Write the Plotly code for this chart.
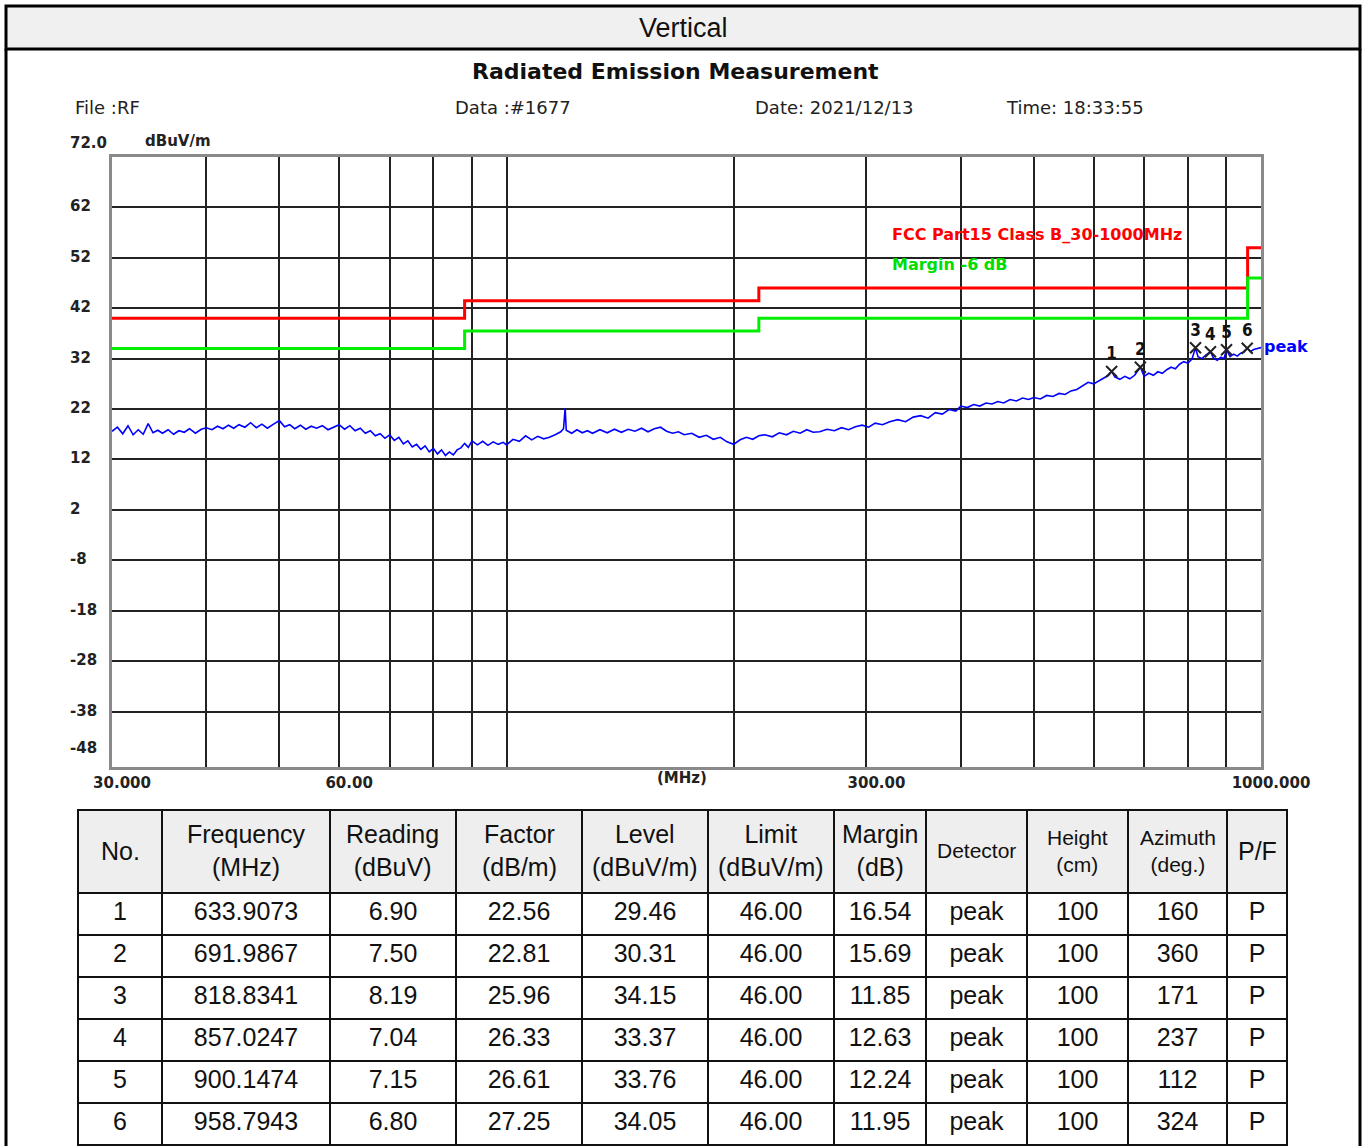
import plotly.graph_objects as go
import math

W, H = 1365, 1146

# ---------------- data ----------------
trace_freq = [
    30.0, 30.5, 31.0, 31.5, 32.0, 32.5, 33.0, 33.5, 34.0, 34.5,
    35.0, 35.6, 36.2, 36.8, 37.4, 38.0, 38.7, 39.4, 40.0, 40.7,
    41.4, 42.1, 42.8, 43.5, 44.2, 45.0, 45.8, 46.6, 47.4, 48.2,
    49.0, 50.0, 50.8, 51.6, 52.4, 53.3, 54.2, 55.1, 56.0, 57.0,
    58.0, 59.0, 60.0, 61.0, 62.0, 63.0, 64.0, 65.0, 66.0, 67.0,
    68.0, 69.0, 70.0, 71.0, 72.0, 73.0, 74.0, 75.0, 76.0, 77.0,
    78.0, 79.0, 80.0, 81.0, 82.0, 83.0, 84.0, 85.0, 86.0, 87.0,
    88.0, 89.0, 90.0, 91.5, 93.0, 94.5, 96.0, 97.5, 99.0, 100.0,
    102, 104, 106, 108, 110, 112, 114, 116, 118, 119,
    119.6, 120, 122, 124, 126, 128, 130, 133, 136, 139,
    142, 145, 148, 151, 154, 157, 160, 163, 166, 169,
    172, 176, 180, 184, 188, 192, 196, 200, 204, 208,
    212, 216, 220, 225, 230, 235, 240, 245, 250, 255,
    260, 266, 272, 278, 284, 290, 296, 302, 308, 315,
    322, 330, 338, 346, 354, 362, 370, 378, 386, 394,
    400, 408, 416, 424, 432, 440, 448, 456, 465, 474,
    483, 492, 500, 510, 520, 530, 540, 550, 560, 570,
    580, 590, 600, 610, 620, 628, 633.9073, 640, 650, 660,
    670, 680, 691.9867, 700, 710, 720, 730, 740, 750, 760,
    770, 780, 790, 800, 810, 818.8341, 825, 835, 845, 857.0247,
    865, 875, 885, 893, 900.1474, 910, 920, 930, 940, 950,
    958.7943, 968, 978, 990, 1000,
]
trace_level = [
    17.6, 18.4, 17.1, 18.7, 16.9, 17.9, 17.0, 19.1, 17.3, 17.8,
    17.2, 17.9, 17.0, 17.7, 17.4, 18.1, 17.2, 18.0, 18.3, 17.9,
    18.6, 18.1, 18.8, 18.2, 18.9, 18.4, 19.3, 18.3, 19.0, 18.2,
    18.9, 19.7, 18.5, 18.9, 18.1, 18.8, 18.0, 18.6, 18.2, 18.7,
    17.9, 18.4, 18.9, 18.0, 18.7, 17.7, 18.2, 17.2, 17.7, 16.7,
    17.1, 16.2, 16.9, 15.8, 16.4, 15.1, 15.7, 14.5, 15.0, 14.0,
    14.7, 13.5, 14.2, 13.1, 13.9, 12.8, 13.5, 12.9, 13.9, 14.3,
    15.2, 14.4, 15.7, 14.9, 15.6, 14.8, 15.5, 15.0, 15.4, 14.9,
    16.0, 15.6, 16.7, 15.9, 16.6, 16.1, 16.4, 16.9, 17.5, 18.1,
    22.2, 17.8, 17.2, 17.9, 17.3, 17.7, 17.2, 17.9, 17.3, 18.0,
    17.4, 18.0, 17.6, 18.2, 17.5, 18.1, 18.4, 17.6, 17.2, 17.5,
    16.9, 17.2, 16.4, 16.8, 16.0, 16.4, 15.5, 15.0, 15.9, 16.4,
    16.0, 16.7, 16.9, 16.5, 17.3, 16.9, 17.6, 17.2, 17.9, 17.4,
    17.5, 18.0, 17.7, 18.3, 17.9, 18.5, 18.8, 18.4, 19.2, 18.9,
    19.5, 19.9, 19.5, 20.4, 20.7, 20.2, 21.3, 21.0, 21.9, 21.6,
    22.6, 22.3, 22.9, 22.6, 23.2, 23.0, 23.5, 23.2, 23.9, 23.6,
    24.2, 23.9, 24.3, 24.0, 24.7, 24.5, 25.1, 24.9, 25.6, 25.9,
    26.6, 27.3, 27.0, 27.6, 28.2, 28.7, 29.46, 28.4, 27.9, 28.5,
    28.0, 28.7, 30.31, 28.5, 29.1, 28.7, 29.4, 29.1, 29.8, 30.3,
    30.0, 30.9, 31.4, 31.1, 31.9, 34.15, 32.4, 32.0, 32.7, 33.37,
    32.1, 31.7, 32.3, 32.0, 33.76, 32.4, 32.9, 32.5, 33.1, 33.3,
    34.05, 33.4, 33.8, 34.0, 34.2,
]

limit_freq = [30, 88, 216, 960, 1000]
limit_level = [40, 43.5, 46, 54, 54]
margin_level = [34, 37.5, 40, 48, 48]

peak_no = [1, 2, 3, 4, 5, 6]
peak_freq = [633.9073, 691.9867, 818.8341, 857.0247, 900.1474, 958.7943]
peak_reading = [6.90, 7.50, 8.19, 7.04, 7.15, 6.80]
peak_factor = [22.56, 22.81, 25.96, 26.33, 26.61, 27.25]
peak_level = [29.46, 30.31, 34.15, 33.37, 33.76, 34.05]
peak_limit = [46.00, 46.00, 46.00, 46.00, 46.00, 46.00]
peak_margin = [16.54, 15.69, 11.85, 12.63, 12.24, 11.95]
peak_detector = ["peak"] * 6
peak_height = [100, 100, 100, 100, 100, 100]
peak_azimuth = [160, 360, 171, 237, 112, 324]
peak_pf = ["P"] * 6

x_grid = [30, 40, 50, 60, 70, 80, 90, 100, 200, 300, 400, 500, 600, 700, 800, 900, 1000]
x_labels = {30: "30.000", 60: "60.00", 300: "300.00", 1000: "1000.000"}
y_ticks = [62, 52, 42, 32, 22, 12, 2, -8, -18, -28, -38]

table_headers = ["No.", "Frequency<br>(MHz)", "Reading<br>(dBuV)", "Factor<br>(dB/m)",
                 "Level<br>(dBuV/m)", "Limit<br>(dBuV/m)", "Margin<br>(dB)", "Detector",
                 "Height<br>(cm)", "Azimuth<br>(deg.)", "P/F"]
table_col_widths = [84, 168, 126, 126, 126, 126, 92, 101, 101, 99, 60]
table_header_sizes = [25, 25, 25, 25, 25, 25, 25, 21, 21, 21, 25]

# ---------------- helpers (layout positions) ----------------
def px(x):
    return x / W

def py(y):
    return 1 - y / H

CHART_FONT = "DejaVu Sans, Verdana, sans-serif"
TABLE_FONT = "Liberation Sans, Arial, Helvetica, sans-serif"
TABLE_LEFT, TABLE_RIGHT, TABLE_TOP, HEADER_H = 78, 1287, 810, 83

fig = go.Figure()

fig.add_trace(go.Scatter(x=limit_freq, y=limit_level, mode="lines", line_shape="hv",
                         line=dict(color="#ff0000", width=3), hoverinfo="skip"))
fig.add_trace(go.Scatter(x=limit_freq, y=margin_level, mode="lines", line_shape="hv",
                         line=dict(color="#00ee00", width=3), hoverinfo="skip"))
fig.add_trace(go.Scatter(x=trace_freq, y=trace_level, mode="lines",
                         line=dict(color="#0000ff", width=1.6)))
fig.add_trace(go.Scatter(x=peak_freq, y=peak_level, mode="markers+text",
                         text=[str(n) for n in peak_no], textposition="top center",
                         textfont=dict(family="DejaVu Sans Condensed, DejaVu Sans", size=17,
                                       color="#111", weight="bold"),
                         marker=dict(symbol="x-thin", size=11,
                                     line=dict(color="#222", width=2))))

fig.add_trace(go.Table(
    domain=dict(x=[px(TABLE_LEFT), px(TABLE_RIGHT)], y=[0, py(TABLE_TOP)]),
    columnwidth=table_col_widths,
    header=dict(values=[""] * len(table_headers), fill_color="#eeeeee",
                line=dict(color="#111", width=2), height=HEADER_H, align="center",
                font=dict(family=TABLE_FONT, color="#111", size=25)),
    cells=dict(values=[peak_no,
                       [f"{v:.4f}" for v in peak_freq],
                       [f"{v:.2f}" for v in peak_reading],
                       [f"{v:.2f}" for v in peak_factor],
                       [f"{v:.2f}" for v in peak_level],
                       [f"{v:.2f}" for v in peak_limit],
                       [f"{v:.2f}" for v in peak_margin],
                       peak_detector, peak_height, peak_azimuth, peak_pf],
               fill_color="white", line=dict(color="#111", width=2), height=42,
               align="center", font=dict(family=TABLE_FONT, color="#111", size=25)),
))

ann = []
# table header labels, centred in each column
total_w = sum(table_col_widths)
scale = (TABLE_RIGHT - TABLE_LEFT) / total_w
cx = TABLE_LEFT
for label, wcol, fs in zip(table_headers, table_col_widths, table_header_sizes):
    centre = cx + wcol * scale / 2
    cx += wcol * scale
    ann.append(dict(x=px(centre), y=py(TABLE_TOP + HEADER_H / 2 - 1), xref="paper", yref="paper",
                    xanchor="center", yanchor="middle", align="center", text=label,
                    showarrow=False, font=dict(family=TABLE_FONT, size=fs, color="#111")))

# y tick labels (left aligned)
for v in y_ticks:
    ann.append(dict(x=px(68), y=v, xref="paper", yref="y", xanchor="left", yanchor="middle",
                    yshift=1, text=f"<b>{v}</b>", showarrow=False,
                    font=dict(family=CHART_FONT, size=15, color="#222")))
ann.append(dict(x=px(68), y=py(143), xref="paper", yref="paper", xanchor="left", yanchor="middle",
                text="<b>72.0</b>", showarrow=False, font=dict(family=CHART_FONT, size=15, color="#222")))
ann.append(dict(x=px(68), y=py(748), xref="paper", yref="paper", xanchor="left", yanchor="middle",
                text="<b>-48</b>", showarrow=False, font=dict(family=CHART_FONT, size=15, color="#222")))
ann.append(dict(x=px(143), y=py(141), xref="paper", yref="paper", xanchor="left", yanchor="middle",
                text="<b>dBuV/m</b>", showarrow=False, font=dict(family=CHART_FONT, size=15, color="#222")))
ann.append(dict(x=px(682), y=py(778), xref="paper", yref="paper", xanchor="center", yanchor="middle",
                text="<b>(MHz)</b>", showarrow=False, font=dict(family=CHART_FONT, size=15, color="#222")))
ann.append(dict(x=px(890), y=py(234), xref="paper", yref="paper", xanchor="left", yanchor="middle",
                text="<b>FCC Part15 Class B_30-1000MHz</b>", showarrow=False,
                font=dict(family=CHART_FONT, size=16, color="#ff0000")))
ann.append(dict(x=px(890), y=py(264), xref="paper", yref="paper", xanchor="left", yanchor="middle",
                text="<b>Margin -6 dB</b>", showarrow=False,
                font=dict(family=CHART_FONT, size=16, color="#00dd00")))
ann.append(dict(x=px(1262), y=py(346), xref="paper", yref="paper", xanchor="left", yanchor="middle",
                text="<b>peak</b>", showarrow=False,
                font=dict(family=CHART_FONT, size=16, color="#0000ff")))
# titles
ann.append(dict(x=px(683), y=py(28), xref="paper", yref="paper", xanchor="center", yanchor="middle",
                text="Vertical", showarrow=False, font=dict(family=TABLE_FONT, size=27, color="#111")))
ann.append(dict(x=px(675), y=py(72), xref="paper", yref="paper", xanchor="center", yanchor="middle",
                text="<b>Radiated Emission Measurement</b>", showarrow=False,
                font=dict(family=CHART_FONT, size=22, color="#111")))
for xx, t in [(73, "File :RF"), (453, "Data :#1677"), (753, "Date: 2021/12/13"), (1004, "Time: 18:33:55")]:
    ann.append(dict(x=px(xx), y=py(108), xref="paper", yref="paper", xanchor="left", yanchor="middle",
                    text=t, showarrow=False, font=dict(family=CHART_FONT, size=18, color="#222")))

shapes = [
    dict(type="rect", xref="paper", yref="paper", x0=px(6), x1=px(1360), y0=py(6), y1=py(49),
         fillcolor="#f0f0f0", line=dict(color="#000", width=3), layer="below"),
    dict(type="line", xref="paper", yref="paper", x0=px(6), x1=px(6), y0=py(49), y1=0,
         line=dict(color="#000", width=3)),
    dict(type="line", xref="paper", yref="paper", x0=px(1360), x1=px(1360), y0=py(49), y1=0,
         line=dict(color="#000", width=3)),
]

fig.update_layout(
    width=W, height=H, margin=dict(l=0, r=0, t=0, b=0, pad=0, autoexpand=False),
    paper_bgcolor="white", plot_bgcolor="white", showlegend=False,
    annotations=ann, shapes=shapes,
    xaxis=dict(type="log", domain=[px(112), px(1261)], automargin=False,
               range=[math.log10(30), math.log10(1000)],
               tickmode="array", tickvals=x_grid,
               ticktext=[x_labels.get(v, "") for v in x_grid],
               ticklabelshift=10, ticks="", showgrid=True, gridcolor="#222", gridwidth=1.6,
               showline=True, linecolor="#8a8a8a", linewidth=3, mirror=True,
               tickfont=dict(family=CHART_FONT, size=15, color="#222", weight="bold"),
               zeroline=False, fixedrange=True),
    yaxis=dict(domain=[py(767), py(157)], range=[-49, 72], automargin=False,
               tickmode="array", tickvals=y_ticks, showticklabels=False, ticks="",
               showgrid=True, gridcolor="#222", gridwidth=1.6,
               showline=True, linecolor="#8a8a8a", linewidth=3, mirror=True,
               zeroline=False, fixedrange=True),
)

fig.write_html("out.html", config={"displayModeBar": False},
               post_script="document.body.style.margin='0';document.body.style.overflow='hidden';")
